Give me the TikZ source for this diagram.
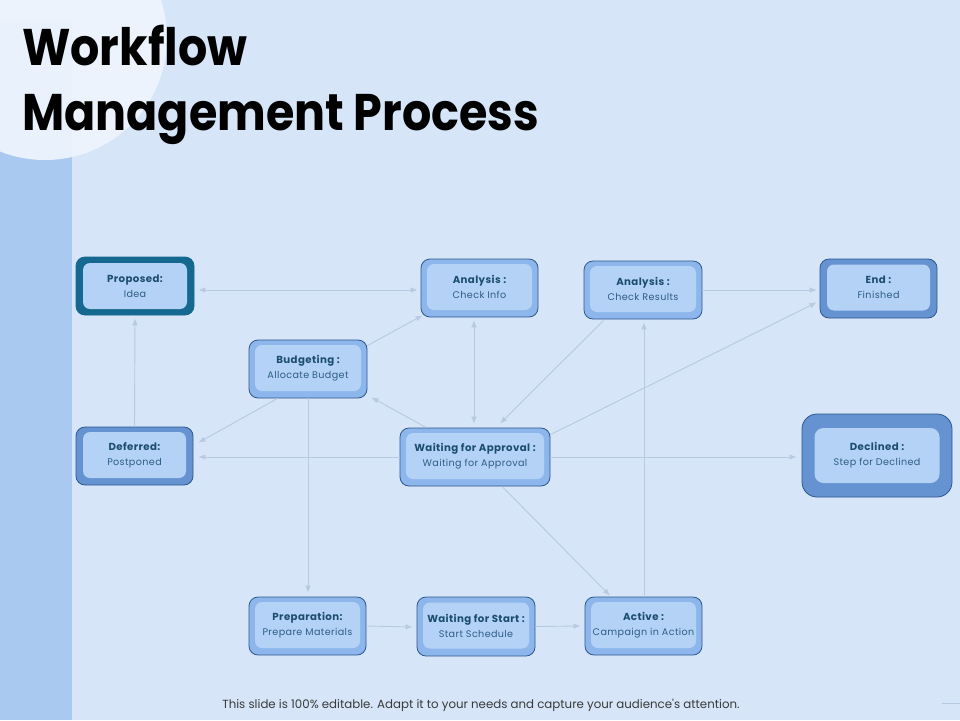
\documentclass[tikz,border=0pt]{standalone}
\usepackage{fontspec}
\usetikzlibrary{arrows.meta,calc}
\newfontfamily\pop{Poppins}
\newfontfamily\popsp[LetterSpace=4]{Poppins}
\definecolor{bgc}{HTML}{D6E5F7}
\definecolor{stripc}{HTML}{A9C9F1}
\definecolor{circc}{HTML}{EFF5FD}
\definecolor{bandl}{HTML}{8DB7EC}
\definecolor{bandd}{HTML}{6592D0}
\definecolor{bandt}{HTML}{15688F}
\definecolor{innerc}{HTML}{B4D2F5}
\definecolor{edgec}{HTML}{2E588C}
\definecolor{labc}{HTML}{1B4E6E}
\definecolor{subc}{HTML}{2C5E86}
\definecolor{connc}{HTML}{B7CAE2}
\definecolor{footc}{HTML}{3A3A3A}
\tikzset{
  outerbox/.style={draw=edgec, line width=0.8pt, rounded corners=9pt, fill=bandl, inner sep=0pt},
  darkbox/.style={outerbox, fill=bandd},
  tealbox/.style={outerbox, fill=bandt, draw=bandt},
  innerbox/.style={rounded corners=7pt, fill=innerc, inner sep=0pt, align=center,
    text=subc, font=\popsp\fontsize{9.6}{15}\selectfont},
  conn/.style={draw=connc, line width=0.9pt, -{Latex[length=7pt,width=5.5pt]}},
  conn2/.style={draw=connc, line width=0.9pt, {Latex[length=7pt,width=5.5pt]}-{Latex[length=7pt,width=5.5pt]}},
  titlef/.style={font=\pop\bfseries\fontsize{46}{50}\selectfont, text=black, inner sep=0pt, anchor=base west},
}
\newcommand{\lab}[1]{{\fontsize{10.2}{15}\selectfont\bfseries\color{labc}#1}}
\begin{document}
\begin{tikzpicture}[x=1pt,y=-1pt]
\fill[bgc] (0,0) rectangle (960,720);
\useasboundingbox (0,0) rectangle (960,720);
\fill[stripc] (0,20) rectangle (72,720);
\fill[circc, opacity=0.92] (45,38) circle (122pt);

\node[titlef] (t1) at (22,65) {\scalebox{1}[1.12]{Workflow}};
\node[titlef] (t2) at (22,130) {\scalebox{1}[1.12]{Management Process}};

% boxes
\node[tealbox, minimum width=118pt, minimum height=58pt] (prop) at (135,286) {};
\node[innerbox, minimum width=104pt, minimum height=46pt] (propi) at ($(prop)+(0,0)$) {\lab{Proposed:}\\Idea};

\node[outerbox, minimum width=117pt, minimum height=58pt] (chk) at (479.5,288) {};
\node[innerbox, minimum width=105pt, minimum height=46pt] (chki) at ($(chk)+(0,-1)$) {\lab{Analysis :}\\Check Info};

\node[outerbox, minimum width=118pt, minimum height=58pt] (res) at (643,290) {};
\node[innerbox, minimum width=106pt, minimum height=46pt] (resi) at ($(res)+(0,-1)$) {\lab{Analysis :}\\Check Results};

\node[darkbox, minimum width=117pt, minimum height=59pt] (endn) at (878.5,288.5) {};
\node[innerbox, minimum width=103pt, minimum height=46pt] (endi) at ($(endn)+(0,-1)$) {\lab{End :}\\Finished};

\node[outerbox, minimum width=118pt, minimum height=58pt] (bud) at (308,369) {};
\node[innerbox, minimum width=106pt, minimum height=46pt] (budi) at ($(bud)+(0,-1)$) {\lab{Budgeting :}\\Allocate Budget};

\node[darkbox, minimum width=117pt, minimum height=58pt] (def) at (134.5,456) {};
\node[innerbox, minimum width=103pt, minimum height=46pt] (defi) at ($(def)+(0,-1)$) {\lab{Deferred:}\\Postponed};

\node[outerbox, minimum width=150pt, minimum height=58pt] (wap) at (475,457) {};
\node[innerbox, minimum width=138pt, minimum height=46pt] (wapi) at ($(wap)+(0,-1)$) {\lab{Waiting for Approval :}\\Waiting for Approval};

\node[darkbox, rounded corners=15pt, minimum width=150pt, minimum height=83pt] (dec) at (877,455.5) {};
\node[innerbox, rounded corners=9pt, minimum width=125pt, minimum height=55pt] (deci) at ($(dec)+(0,0)$) {\lab{Declined :}\\Step for Declined};

\node[outerbox, minimum width=117pt, minimum height=58pt] (prep) at (307.5,626) {};
\node[innerbox, minimum width=105pt, minimum height=46pt] (prepi) at ($(prep)+(0,-1)$) {\lab{Preparation:}\\Prepare Materials};

\node[outerbox, minimum width=118pt, minimum height=59pt] (wst) at (476,626.5) {};
\node[innerbox, minimum width=106pt, minimum height=46pt] (wsti) at ($(wst)+(0,-1)$) {\lab{Waiting for Start :}\\Start Schedule};

\node[outerbox, minimum width=117pt, minimum height=58pt] (act) at (643.5,626) {};
\node[innerbox, minimum width=105pt, minimum height=46pt] (acti) at ($(act)+(0,-1)$) {\lab{Active :}\\Campaign in Action};

% connectors
\draw[conn2] ($(prop.east)+(4,4)$) -- ($(chk.west)+(-3,2)$);
\draw[conn] (def.north) -- ($(prop.south)+(0,3)$);
\draw[conn] ($(bud.north east)+(0,6)$) -- ($(chk.south west)+(2,-2)$);
\draw[conn] ($(bud.south west)+(29,0)$) -- ($(def.north east)+(5,16)$);
\draw[conn] (bud.south) -- ($(prep.north)+(0.5,-4)$);
\draw[conn2] ($(chk.south)+(-5.5,3)$) -- ($(wap.north)+(-1,-4)$);
\draw[conn] ($(res.south west)+(20,1)$) -- ($(wap.north)+(25,-4)$);
\draw[conn] (res.east) -- ($(endn.west)+(-3,1.5)$);
\draw[conn] ($(wap.north east)+(0,7)$) -- ($(endn.south west)+(-3,-16)$);
\draw[conn] ($(wap.north west)+(25,-1)$) -- ($(bud.south east)+(4,-1)$);
\draw[conn] (wap.west) -- ($(def.east)+(5,1)$);
\draw[conn] (wap.east) -- ($(dec.west)+(-5,1.5)$);
\draw[conn] ($(wap.south)+(28,1)$) -- ($(act.north)+(-33.5,-1)$);
\draw[conn] ($(act.north)+(0.5,0)$) -- ($(res.south)+(1,3)$);
\draw[conn] (prep.east) -- ($(wst.west)+(-4,0.5)$);
\draw[conn] (wst.east) -- ($(act.west)+(-4,0)$);

% footer
\node[font=\pop\fontsize{11.8}{13}\selectfont, text=footc, inner sep=0pt] (foot) at (481,705) {This slide is 100\% editable. Adapt it to your needs and capture your audience's attention.};
\coordinate (fl1) at (942,703);
\coordinate (fl2) at (960,703);
\draw[connc, line width=0.8pt] (fl1) -- (fl2);
\end{tikzpicture}
\end{document}
